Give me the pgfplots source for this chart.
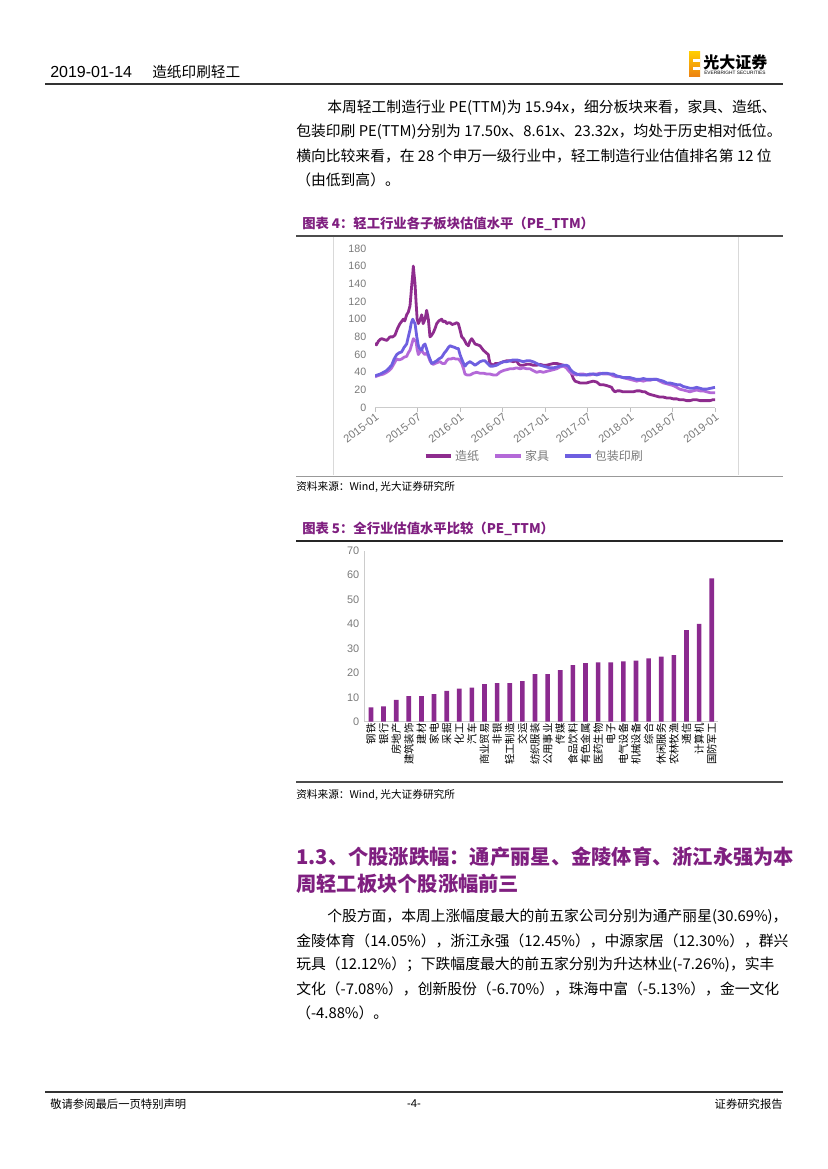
\documentclass[border=0pt]{standalone}
\usepackage{fontspec}
\setmainfont{Noto Sans CJK SC}
\newfontfamily\ar{Liberation Sans}
\usepackage{pgfplots}
\pgfplotsset{compat=1.18}

\definecolor{zz}{HTML}{8E2C8E}
\definecolor{jj}{HTML}{B469D8}
\definecolor{bz}{HTML}{6E5FE0}
\definecolor{tp}{HTML}{7F1F80}
\definecolor{barc}{HTML}{8B2A8F}
\definecolor{tick}{HTML}{7A7A7A}

\begin{document}
\begin{tikzpicture}
\begin{scope}[x=0.75pt,y=0.75pt]
\path[use as bounding box, fill=white] (0,0) rectangle (827,-1169);

% header
\node[anchor=west, font=\ar\fontsize{12}{14}\selectfont, inner sep=0] at (50,-72) {2019-01-14};
\node[anchor=west, font=\fontsize{11}{13}\selectfont, inner sep=0] at (152,-72) {造纸印刷轻工};
\draw[line width=1.2pt, black!80] (45,-84) -- (783,-84);
\shade[top color=yellow!60!orange, bottom color=orange!70!brown] (689,-52) rectangle (700,-77);
\fill[white] (693,-59) rectangle (700,-62);
\fill[white] (693,-67) rectangle (700,-70);
\node[anchor=west, font=\bfseries\fontsize{12}{13}\selectfont, inner sep=0] at (703,-62) {光大证券};
\node[anchor=west, font=\ar\fontsize{3.6}{4}\selectfont, inner sep=0] at (704,-73) {EVERBRIGHT SECURITIES};

% paragraph 1
\begin{scope}[every node/.style={anchor=west, inner sep=0, font=\fontsize{11.1}{13}\selectfont}]
\node at (327,-108) {本周轻工制造行业 PE(TTM)为 15.94x，细分板块来看，家具、造纸、};
\node at (296,-132) {包装印刷 PE(TTM)分别为 17.50x、8.61x、23.32x，均处于历史相对低位。};
\node at (296,-156) {横向比较来看，在 28 个申万一级行业中，轻工制造行业估值排名第 12 位};
\node at (296,-180) {（由低到高）。};
\end{scope}

% figure 4 frame
\node[anchor=west, inner sep=0, text=tp, font=\bfseries\fontsize{10}{12}\selectfont] at (302,-224) {图表 4：轻工行业各子板块估值水平（PE\_TTM）};
\draw[line width=0.8pt, black!70] (296,-236) -- (783,-236);
\draw[black!15] (333,-237) -- (333,-475) (738,-237) -- (738,-475);
\draw[line width=0.6pt, black!40] (296,-476) -- (783,-476);
\node[anchor=west, inner sep=0, font=\fontsize{8}{10}\selectfont] at (296,-487) {资料来源：Wind, 光大证券研究所};

% figure 5 frame
\node[anchor=west, inner sep=0, text=tp, font=\bfseries\fontsize{10}{12}\selectfont] at (302,-529) {图表 5：全行业估值水平比较（PE\_TTM）};
\draw[line width=0.8pt, black!85] (296,-541) -- (783,-541);
\draw[line width=0.8pt, black!70] (296,-782) -- (783,-782);
\node[anchor=west, inner sep=0, font=\fontsize{8}{10}\selectfont] at (296,-795) {资料来源：Wind, 光大证券研究所};

% section 1.3
\begin{scope}[every node/.style={anchor=west, inner sep=0, text=tp, font=\bfseries\fontsize{15.2}{18}\selectfont}]
\node at (296,-857) {1.3、个股涨跌幅：通产丽星、金陵体育、浙江永强为本};
\node at (296,-884) {周轻工板块个股涨幅前三};
\end{scope}

\begin{scope}[every node/.style={anchor=west, inner sep=0, font=\fontsize{11.1}{13}\selectfont}]
\node at (327,-917) {个股方面，本周上涨幅度最大的前五家公司分别为通产丽星(30.69\%)，};
\node at (296,-941) {金陵体育（14.05\%），浙江永强（12.45\%），中源家居（12.30\%），群兴};
\node at (296,-965) {玩具（12.12\%）；下跌幅度最大的前五家分别为升达林业(-7.26\%)，实丰};
\node at (296,-989) {文化（-7.08\%），创新股份（-6.70\%），珠海中富（-5.13\%），金一文化};
\node at (296,-1013) {（-4.88\%）。};
\end{scope}

% footer
\draw[line width=1pt, black!80] (45,-1092) -- (783,-1092);
\node[anchor=west, inner sep=0, font=\fontsize{8.5}{10}\selectfont] at (50,-1104) {敬请参阅最后一页特别声明};
\node[inner sep=0, font=\ar\fontsize{8.5}{10}\selectfont] at (414,-1104) {-4-};
\node[anchor=east, inner sep=0, font=\fontsize{8.5}{10}\selectfont] at (783,-1104) {证券研究报告};
\end{scope}

\begin{axis}[
  at={(281.25pt,-305.78pt)}, anchor=south west,
  scale only axis, width=255pt, height=119.5pt,
  xmin=0, xmax=48, ymin=0, ymax=180,
  axis lines=left,
  y axis line style={draw=none},
  x axis line style={black!20, -},
  xtick={0,6,...,48},
  xticklabels={2015-01,2015-07,2016-01,2016-07,2017-01,2017-07,2018-01,2018-07,2019-01},
  ytick={0,20,...,180},
  major tick length=3pt,
  ytick style={draw=none},
  xtick style={black!25},
  tick align=outside,
  /pgf/number format/assume math mode=true,
  yticklabel style={font=\ar\fontsize{8}{10}\selectfont, text=tick},
  xticklabel style={font=\ar\fontsize{8.3}{10}\selectfont, text=tick, rotate=37, anchor=north east, inner sep=0.5pt},
  legend style={at={(0.47,-0.303)}, anchor=center, draw=none, fill=none, legend columns=3,
    font=\fontsize{9}{11}\selectfont, text=tick,
    /tikz/every even column/.append style={column sep=9pt}},
  legend image code/.code={\draw[#1, line width=2.4pt] (0pt,0pt) -- (19pt,0pt);},
  every axis plot/.append style={line width=2.1pt, line join=round},
]
\addplot[zz] coordinates {(0,73) (0.2,71) (0.47,75) (0.7,77) (0.94,78) (1.3,77) (1.65,76) (2.12,80) (2.5,80) (2.82,82) (3.2,90) (3.53,95) (4.0,100) (4.2,98) (4.47,105) (4.7,108) (4.94,115) (5.1,130) (5.2,140) (5.3,148) (5.41,160) (5.5,152) (5.65,140) (5.79,120) (5.95,100) (6.12,95) (6.4,100) (6.59,105) (6.8,95) (7.06,100) (7.29,110) (7.53,100) (7.76,80) (8.0,82) (8.24,85) (8.5,90) (8.71,95) (9.0,98) (9.41,100) (9.6,97) (9.88,98) (10.12,95) (10.35,96) (10.59,96) (10.9,94) (11.29,95) (11.5,96) (11.76,95) (12.0,88) (12.24,80) (12.5,78) (12.71,75) (12.9,72) (13.18,70) (13.4,75) (13.65,78) (13.9,75) (14.12,72) (14.5,71) (14.82,70) (15.29,65) (15.7,62) (16.0,60) (16.1,55) (16.24,50) (16.71,48) (17.0,50) (17.41,50) (17.8,51) (18.12,52) (18.6,53) (19.06,53) (19.5,52) (20.0,53) (20.2,50) (20.47,48) (20.94,48) (21.4,49) (21.88,49) (22.3,48) (22.82,48) (23.3,49) (23.76,48) (24.2,48) (24.71,49) (25.2,50) (25.65,50) (26.1,49) (26.59,48) (27.0,47) (27.29,46) (27.5,42) (27.76,38) (28.0,33) (28.24,30) (28.6,29) (28.94,28) (29.4,28) (29.88,28) (30.3,29) (30.82,30) (31.3,29) (31.76,26) (32.2,26) (32.71,25) (33.1,24) (33.41,23) (33.6,20) (33.88,18) (34.2,19) (34.59,19) (35.0,18) (35.53,18) (36.0,18) (36.47,18) (36.9,19) (37.41,19) (37.8,18) (38.12,18) (38.5,16) (38.82,15) (39.3,14) (39.76,13) (40.2,12) (40.71,12) (41.2,11) (41.65,11) (42.1,10) (42.59,10) (43.0,9) (43.53,9) (44.0,8) (44.47,8) (44.9,9) (45.41,9) (45.9,8) (46.35,8) (46.8,8) (47.29,8) (47.7,9) (48,9)};
\addlegendentry{造纸}
\addplot[jj] coordinates {(0,35) (0.35,36) (0.71,37) (1.2,38) (1.65,40) (2.0,42) (2.35,45) (2.7,50) (3.06,55) (3.4,54) (3.76,55) (4.1,57) (4.47,58) (4.7,62) (4.94,65) (5.2,72) (5.41,78) (5.6,76) (5.79,75) (5.95,66) (6.12,60) (6.35,63) (6.59,65) (6.8,62) (7.06,60) (7.3,62) (7.53,58) (7.76,53) (8.0,50) (8.24,49) (8.47,50) (8.8,51) (9.18,52) (9.5,50) (9.88,50) (10.1,53) (10.35,55) (10.7,55) (11.06,56) (11.4,55) (11.76,55) (12.0,53) (12.24,50) (12.5,44) (12.71,38) (13.0,37) (13.41,37) (13.9,39) (14.35,40) (14.8,39) (15.29,39) (15.8,38) (16.24,38) (16.7,37) (17.18,37) (17.6,40) (18.12,42) (18.6,43) (19.06,44) (19.5,44) (20.0,45) (20.5,44) (20.94,45) (21.4,44) (21.88,44) (22.3,42) (22.82,40) (23.3,41) (23.76,40) (24.2,41) (24.71,42) (25.2,43) (25.65,44) (26.1,46) (26.59,47) (27.0,45) (27.53,40) (28.0,38) (28.47,37) (28.9,38) (29.41,38) (29.9,37) (30.35,37) (30.8,38) (31.29,38) (31.8,39) (32.24,38) (32.7,38) (33.18,38) (33.6,36) (34.12,35) (34.6,35) (35.06,34) (35.5,33) (36.0,32) (36.5,31) (36.94,30) (37.4,31) (37.88,30) (38.3,31) (38.82,31) (39.3,32) (39.76,32) (40.2,30) (40.71,28) (41.2,27) (41.65,26) (42.1,25) (42.59,23) (43.0,21) (43.53,20) (44.0,19) (44.47,18) (44.9,19) (45.41,20) (45.9,19) (46.35,19) (46.8,18) (47.29,17) (47.7,17) (48,17)};
\addlegendentry{家具}
\addplot[bz] coordinates {(0,36) (0.35,37) (0.71,38) (1.2,40) (1.65,42) (2.0,45) (2.35,48) (2.7,55) (3.06,60) (3.4,62) (3.76,63) (4.1,68) (4.47,72) (4.7,80) (4.94,88) (5.1,95) (5.32,100) (5.5,97) (5.65,95) (5.9,80) (6.12,70) (6.35,66) (6.59,65) (6.8,70) (7.06,72) (7.3,66) (7.53,60) (7.76,55) (8.0,50) (8.3,51) (8.71,53) (9.0,55) (9.41,57) (9.8,62) (10.12,65) (10.35,68) (10.59,70) (10.9,69) (11.29,68) (11.5,67) (11.76,67) (12.0,60) (12.24,55) (12.5,50) (12.71,47) (13.0,50) (13.41,52) (13.8,50) (14.12,48) (14.5,50) (14.82,52) (15.2,53) (15.53,53) (15.9,50) (16.24,47) (16.7,47) (17.18,48) (17.6,50) (18.12,52) (18.6,52) (19.06,53) (19.5,54) (20.0,54) (20.5,53) (20.94,52) (21.4,53) (21.88,53) (22.3,52) (22.82,50) (23.3,48) (23.76,47) (24.2,46) (24.71,45) (25.2,45) (25.65,46) (26.1,47) (26.59,48) (27.0,48) (27.29,47) (27.6,43) (28.0,40) (28.5,38) (28.94,37) (29.4,37) (29.88,37) (30.3,38) (30.82,38) (31.3,37) (31.76,38) (32.2,39) (32.71,39) (33.2,38) (33.65,38) (34.1,36) (34.59,35) (35.0,34) (35.53,34) (36.0,34) (36.47,33) (36.9,32) (37.41,32) (37.9,33) (38.35,32) (38.8,32) (39.29,32) (39.8,32) (40.24,31) (40.7,30) (41.18,28) (41.6,28) (42.12,27) (42.6,26) (43.06,26) (43.5,24) (44.0,23) (44.47,22) (44.94,22) (45.4,23) (45.88,22) (46.3,21) (46.82,21) (47.4,22) (48,23)};
\addlegendentry{包装印刷}
\end{axis}

\begin{axis}[
  at={(273pt,-541.28pt)}, anchor=south west,
  scale only axis, width=265.5pt, height=128.3pt,
  xmin=0.45, xmax=28.5, ymin=0, ymax=70,
  ybar, bar width=3.5pt,
  axis lines=left,
  axis line style={black!20, -},
  xtick={1,...,28},
  xticklabels={钢铁,银行,房地产,建筑装饰,建材,家电,采掘,化工,汽车,商业贸易,非银,轻工制造,交运,纺织服装,公用事业,传媒,食品饮料,有色金属,医药生物,电子,电气设备,机械设备,综合,休闲服务,农林牧渔,通信,计算机,国防军工},
  ytick={0,10,...,70},
  major tick length=0pt,
  /pgf/number format/assume math mode=true,
  yticklabel style={font=\ar\fontsize{8.2}{10}\selectfont, text=tick},
  xticklabel style={font=\fontsize{7.8}{9}\selectfont, rotate=90, anchor=east, inner sep=1pt},
]
\addplot[fill=barc, draw=none] coordinates {(1,5.9) (2,6.3) (3,8.9) (4,10.5) (5,10.5) (6,11.3) (7,12.6) (8,13.5) (9,13.9) (10,15.4) (11,15.8) (12,15.8) (13,16.6) (14,19.5) (15,19.5) (16,21.1) (17,23.2) (18,24.0) (19,24.3) (20,24.3) (21,24.7) (22,25.0) (23,25.9) (24,26.6) (25,27.3) (26,37.5) (27,40.0) (28,58.7)};
\end{axis}
\end{tikzpicture}
\end{document}
